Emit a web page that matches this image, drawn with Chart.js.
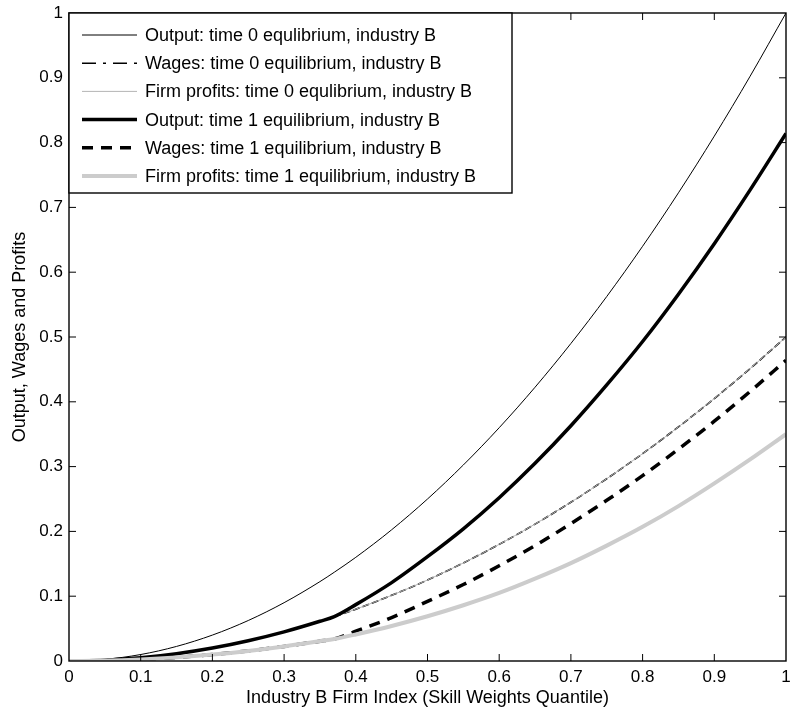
<!DOCTYPE html>
<html lang="en">
<head>
  <meta charset="UTF-8">
  <title>Output, Wages and Profits - Industry B</title>
  <script src="https://cdn.jsdelivr.net/npm/chart.js"></script>
  <style>
    html, body { margin: 0; padding: 0; background: #fff; }
    .chart-container { width: 790px; height: 713px; position: relative; }
  </style>
</head>
<body>
  <div class="chart-container">
    <canvas id="skillChart"></canvas>
  </div>

  <script>
    // firm index (skill weights quantile)
    const xs = [0, 0.05, 0.1, 0.15, 0.2, 0.25, 0.3, 0.35, 0.37, 0.4, 0.45, 0.5, 0.55, 0.6, 0.65, 0.7, 0.75, 0.8, 0.85, 0.9, 0.95, 1];

    const output0  = [0, 0.0025, 0.01, 0.0225, 0.04, 0.0625, 0.09, 0.1225, 0.137, 0.16, 0.2025, 0.25, 0.3025, 0.36, 0.4225, 0.49, 0.5625, 0.64, 0.7225, 0.81, 0.9025, 1];
    const wages0   = [0, 0.0013, 0.005, 0.0113, 0.02, 0.0313, 0.045, 0.0613, 0.0685, 0.08, 0.1013, 0.125, 0.1513, 0.18, 0.2113, 0.245, 0.2813, 0.32, 0.3613, 0.405, 0.4513, 0.5];
    const profits0 = [0, 0.0013, 0.005, 0.0113, 0.02, 0.0313, 0.045, 0.0613, 0.0685, 0.08, 0.1013, 0.125, 0.1513, 0.18, 0.2113, 0.245, 0.2813, 0.32, 0.3613, 0.405, 0.4513, 0.5];
    const output1  = [0, 0.0013, 0.005, 0.0113, 0.02, 0.0313, 0.045, 0.0613, 0.0685, 0.087, 0.121, 0.161, 0.204, 0.252, 0.305, 0.363, 0.426, 0.493, 0.566, 0.644, 0.727, 0.814];
    const wages1   = [0, 0.0006, 0.0025, 0.0056, 0.01, 0.0156, 0.0225, 0.0306, 0.034, 0.046, 0.067, 0.092, 0.118, 0.147, 0.178, 0.212, 0.248, 0.286, 0.327, 0.370, 0.416, 0.464];
    const profits1 = [0, 0.0006, 0.0025, 0.0056, 0.01, 0.0156, 0.0225, 0.0306, 0.034, 0.041, 0.054, 0.069, 0.086, 0.105, 0.127, 0.151, 0.178, 0.207, 0.239, 0.274, 0.311, 0.350];

    const labels = [
      'Output: time 0 equlibrium, industry B',
      'Wages: time 0 equilibrium, industry B',
      'Firm profits: time 0 equlibrium, industry B',
      'Output: time 1 equilibrium, industry B',
      'Wages: time 1 equilibrium, industry B',
      'Firm profits: time 1 equilibrium, industry B'
    ];

    const FONT = '"Liberation Sans", Arial, Helvetica, sans-serif';

    function pts(ys) {
      return xs.map((x, i) => ({ x: x, y: ys[i] }));
    }

    const styles = [
      { color: '#000000', width: 1, dash: [] },
      { color: '#000000', width: 1.6, dash: [7, 3] },
      { color: '#b4b4b4', width: 1, dash: [] },
      { color: '#000000', width: 3.5, dash: [11, 8] },
      { color: '#000000', width: 3.5, dash: [11, 8] },
      { color: '#cccccc', width: 4, dash: [] }
    ];
    styles[3].dash = [];
    const series = [output0, wages0, profits0, output1, wages1, profits1];

    const datasets = series.map((s, i) => ({
      label: labels[i],
      data: pts(s),
      borderColor: styles[i].color,
      borderWidth: styles[i].width,
      borderDash: styles[i].dash,
      pointRadius: 0,
      fill: false,
      cubicInterpolationMode: 'monotone',
      order: 5 - i
    }));

    // frame with inward ticks, like the matlab box
    const framePlugin = {
      id: 'frame',
      afterDatasetsDraw(chart) {
        const { ctx, chartArea: a, scales } = chart;
        ctx.save();
        ctx.strokeStyle = '#000';
        ctx.lineWidth = 1.4;
        ctx.setLineDash([]);
        ctx.strokeRect(a.left, a.top, a.right - a.left, a.bottom - a.top);
        ctx.lineWidth = 1;
        const tl = 7;
        ctx.beginPath();
        for (let k = 1; k < 10; k++) {
          const v = k / 10;
          const px = scales.x.getPixelForValue(v);
          ctx.moveTo(px, a.bottom); ctx.lineTo(px, a.bottom - tl);
          ctx.moveTo(px, a.top); ctx.lineTo(px, a.top + tl);
          const py = scales.y.getPixelForValue(v);
          ctx.moveTo(a.left, py); ctx.lineTo(a.left + tl, py);
          ctx.moveTo(a.right, py); ctx.lineTo(a.right - tl, py);
        }
        ctx.stroke();

        // legend box in the top left corner
        const bx = a.left, by = a.top, bw = 443, bh = 180;
        ctx.fillStyle = '#fff';
        ctx.fillRect(bx, by, bw, bh);
        ctx.lineWidth = 1.4;
        ctx.strokeRect(bx, by, bw, bh);
        ctx.font = '18px ' + FONT;
        ctx.textBaseline = 'middle';
        ctx.textAlign = 'left';
        labels.forEach((lab, i) => {
          const y = by + 22 + i * 28.2;
          ctx.beginPath();
          ctx.strokeStyle = styles[i].color;
          ctx.lineWidth = styles[i].width;
          ctx.setLineDash(i === 1 ? [14, 7, 3, 7] : styles[i].dash);
          ctx.moveTo(bx + 13, y);
          ctx.lineTo(bx + 68, y);
          ctx.stroke();
          ctx.setLineDash([]);
          ctx.fillStyle = '#000';
          ctx.fillText(lab, bx + 76, y + 1);
        });
        ctx.restore();
      }
    };

    const ctx = document.getElementById('skillChart').getContext('2d');
    new Chart(ctx, {
      type: 'line',
      data: { datasets: datasets },
      plugins: [framePlugin],
      options: {
        responsive: true,
        maintainAspectRatio: false,
        animation: false,
        layout: { padding: { top: 13, right: 4, left: 0, bottom: 0 } },
        plugins: {
          legend: { display: false },
          tooltip: { enabled: false }
        },
        scales: {
          x: {
            type: 'linear',
            min: 0,
            max: 1,
            afterFit(scale) {
              scale.height = 52;
              scale.paddingLeft = 0;
              scale.paddingRight = 0;
            },
            grid: { display: false, drawTicks: false },
            border: { display: false },
            ticks: {
              stepSize: 0.1,
              padding: 6,
              color: '#000',
              font: { family: FONT, size: 17 },
              maxRotation: 0,
              callback: v => +v.toFixed(1)
            },
            title: {
              display: true,
              text: 'Industry B Firm Index (Skill Weights Quantile)',
              color: '#000',
              font: { family: FONT, size: 18 },
              padding: { top: 0, bottom: 4 }
            }
          },
          y: {
            min: 0,
            max: 1,
            afterFit(scale) {
              scale.width = 69;
              scale.paddingTop = 0;
              scale.paddingBottom = 0;
            },
            grid: { display: false, drawTicks: false },
            border: { display: false },
            ticks: {
              stepSize: 0.1,
              padding: 6,
              color: '#000',
              font: { family: FONT, size: 17 },
              callback: v => +v.toFixed(1)
            },
            title: {
              display: true,
              text: 'Output, Wages and Profits',
              color: '#000',
              font: { family: FONT, size: 18 },
              padding: { top: 9, bottom: 0 }
            }
          }
        }
      }
    });
  </script>
</body>
</html>
